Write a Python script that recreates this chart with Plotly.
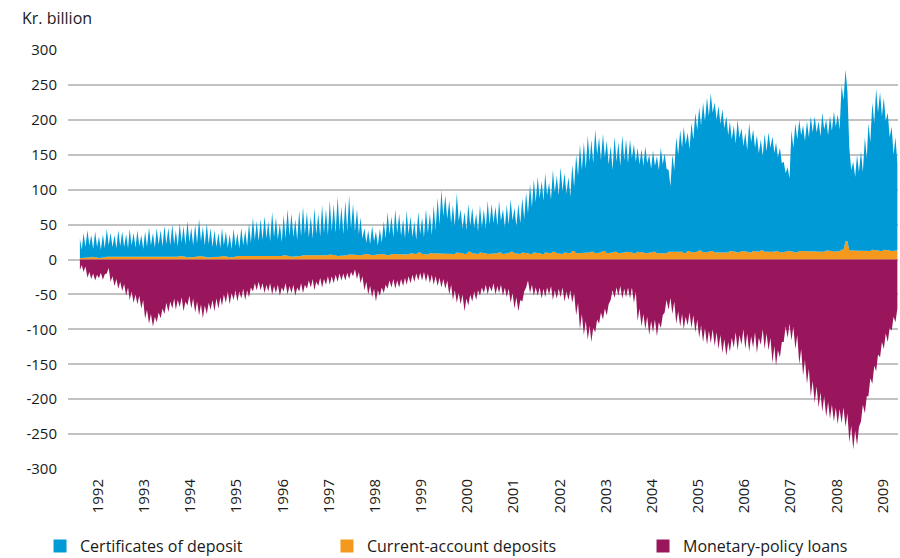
import numpy as np
import pandas as pd
import plotly.graph_objects as go

# ---------------- DATA (kr. billion), monthly Feb 1992 - Oct 2009 ----------------
# Top of the blue area (CD + current-account), spike level and body level per month
cd_top_peak = [
    30, 38, 42, 35, 40, 33, 36, 44, 38, 35, 42,                      # 1992 (Feb-Dec)
    40, 36, 44, 38, 42, 35, 40, 46, 38, 45, 42, 48,                  # 1993
    45, 50, 42, 52, 48, 55, 46, 50, 58, 47, 52, 45,                  # 1994
    42, 38, 45, 40, 36, 44, 38, 46, 42, 52, 60, 55,                  # 1995
    58, 62, 55, 68, 60, 52, 64, 72, 66, 58, 70, 76,                  # 1996
    68, 62, 74, 66, 78, 72, 85, 80, 90, 76, 84, 92,                  # 1997
    80, 72, 60, 45, 42, 48, 40, 44, 55, 68, 62, 72,                  # 1998
    65, 58, 70, 62, 55, 68, 60, 72, 66, 78, 88, 100,                 # 1999
    92, 85, 78, 95, 72, 68, 80, 74, 66, 78, 72, 84,                  # 2000
    80, 76, 84, 72, 78, 86, 74, 80, 88, 96, 108, 115,                # 2001
    118, 112, 124, 110, 128, 120, 132, 124, 118, 136, 150, 165,      # 2002
    168, 178, 172, 186, 175, 180, 170, 162, 176, 168, 178, 172,      # 2003
    172, 165, 160, 158, 162, 150, 156, 148, 160, 152, 128, 150,      # 2004
    175, 185, 190, 182, 196, 210, 218, 225, 232, 238, 225, 220,      # 2005
    215, 205, 198, 192, 200, 188, 182, 195, 186, 178, 172, 180,      # 2006
    182, 176, 168, 160, 140, 132, 185, 195, 200, 192, 198, 205,      # 2007
    205, 198, 210, 200, 206, 212, 208, 250, 272, 160, 140, 150,      # 2008
    155, 175, 195, 225, 245, 240, 232, 210, 190, 175,                # 2009 (Jan-Oct)
]
cd_top_base = [
    14, 18, 20, 15, 18, 14, 16, 20, 18, 16, 19,
    18, 16, 20, 17, 19, 15, 18, 20, 17, 21, 19, 22,
    20, 22, 19, 24, 21, 25, 20, 23, 26, 20, 22, 18,
    18, 16, 20, 17, 15, 19, 16, 20, 19, 24, 28, 26,
    28, 30, 26, 32, 29, 25, 30, 34, 32, 28, 33, 36,
    32, 30, 36, 33, 38, 35, 40, 38, 42, 36, 40, 44,
    40, 36, 30, 24, 22, 26, 20, 24, 30, 36, 32, 38,
    34, 30, 36, 32, 28, 36, 32, 38, 35, 42, 50, 62,
    58, 52, 48, 55, 44, 42, 48, 45, 40, 46, 44, 50,
    52, 48, 55, 46, 50, 56, 48, 52, 58, 66, 75, 82,
    88, 84, 92, 86, 96, 92, 98, 94, 90, 104, 120, 128,
    130, 140, 138, 150, 142, 146, 136, 128, 140, 134, 142, 138,
    145, 140, 136, 134, 138, 130, 134, 128, 136, 130, 105, 128,
    150, 160, 165, 158, 172, 185, 192, 198, 205, 210, 200, 194,
    188, 178, 172, 166, 174, 162, 156, 168, 160, 152, 148, 155,
    160, 152, 146, 138, 124, 116, 160, 172, 178, 170, 175, 182,
    182, 176, 186, 178, 184, 190, 186, 228, 240, 128, 118, 125,
    125, 145, 168, 195, 210, 205, 198, 175, 150, 138,
]
current_account = [
    2, 3, 3, 4, 3, 2, 3, 4, 3, 3, 4,
    3, 4, 3, 3, 4, 3, 4, 3, 3, 4, 3, 4,
    4, 3, 4, 5, 4, 3, 4, 4, 5, 4, 3, 4,
    4, 4, 5, 4, 3, 4, 5, 4, 4, 5, 4, 4,
    4, 5, 4, 5, 4, 5, 6, 5, 4, 5, 5, 6,
    5, 6, 5, 6, 5, 6, 7, 6, 5, 6, 6, 7,
    6, 7, 6, 8, 7, 6, 7, 8, 7, 6, 8, 7,
    7, 8, 7, 9, 8, 10, 8, 7, 9, 8, 9, 8,
    8, 9, 8, 10, 9, 8, 11, 9, 8, 10, 9, 8,
    8, 9, 10, 8, 9, 11, 9, 8, 10, 9, 8, 10,
    9, 8, 10, 9, 11, 9, 8, 10, 9, 12, 9, 10,
    9, 10, 11, 9, 10, 12, 9, 10, 11, 9, 10, 11,
    10, 9, 11, 10, 9, 10, 11, 9, 10, 9, 11, 10,
    10, 11, 9, 12, 10, 11, 13, 10, 11, 12, 10, 11,
    11, 10, 12, 11, 10, 12, 11, 10, 12, 11, 13, 11,
    10, 11, 12, 10, 11, 12, 11, 10, 12, 11, 12, 11,
    11, 12, 11, 13, 12, 11, 12, 14, 26, 13, 12, 13,
    12, 13, 12, 14, 13, 12, 14, 13, 12, 13,
]
loans_deep = [
    -15, -18, -26, -28, -30, -27, -29, -20, -32, -38, -42,
    -45, -52, -58, -62, -64, -70, -85, -92, -96, -90, -84, -78,
    -75, -70, -72, -68, -74, -66, -70, -76, -80, -84, -78, -72,
    -74, -70, -66, -62, -64, -58, -60, -56, -58, -54, -46, -44,
    -44, -48, -46, -50, -48, -52, -46, -50, -48, -52, -46, -48,
    -42, -40, -44, -38, -40, -36, -36, -34, -32, -30, -30, -28,
    -24, -28, -34, -44, -50, -54, -60, -52, -48, -42, -40, -42,
    -40, -38, -36, -34, -32, -30, -30, -32, -34, -36, -38, -40,
    -42, -50, -58, -62, -64, -74, -66, -60, -58, -52, -48, -50,
    -46, -50, -48, -52, -54, -62, -70, -74, -60, -40, -48, -52,
    -52, -56, -54, -50, -58, -56, -54, -60, -58, -62, -80, -100,
    -108, -115, -118, -104, -92, -86, -80, -58, -55, -52, -56, -54,
    -56, -62, -88, -96, -100, -108, -104, -110, -98, -76, -72, -78,
    -92, -96, -100, -94, -98, -104, -112, -118, -122, -120, -124, -128,
    -134, -138, -132, -126, -130, -122, -128, -132, -126, -134, -122, -128,
    -130, -148, -152, -140, -118, -112, -116, -128, -150, -166, -178, -196,
    -205, -212, -218, -225, -228, -232, -236, -234, -240, -262, -272, -266,
    -232, -220, -196, -178, -160, -140, -128, -118, -102, -90,
]
loans_shallow = [
    -8, -10, -18, -20, -22, -19, -21, -12, -24, -28, -32,
    -35, -40, -46, -50, -52, -58, -72, -78, -82, -76, -70, -62,
    -60, -56, -58, -54, -60, -52, -56, -60, -64, -66, -62, -58,
    -56, -54, -50, -46, -48, -44, -46, -42, -44, -40, -34, -32,
    -34, -36, -34, -38, -36, -40, -34, -38, -36, -40, -34, -36,
    -30, -28, -32, -26, -28, -24, -24, -22, -20, -20, -19, -18,
    -14, -18, -24, -32, -38, -42, -44, -40, -36, -30, -28, -30,
    -28, -26, -24, -22, -20, -19, -18, -20, -22, -24, -26, -28,
    -30, -36, -44, -48, -50, -56, -50, -46, -44, -40, -36, -38,
    -34, -38, -36, -40, -42, -48, -54, -58, -46, -30, -36, -40,
    -40, -42, -40, -38, -44, -42, -40, -46, -44, -48, -62, -78,
    -88, -95, -98, -86, -76, -70, -64, -44, -40, -38, -42, -40,
    -40, -46, -70, -78, -82, -88, -86, -90, -80, -58, -55, -60,
    -74, -78, -82, -76, -80, -86, -94, -98, -102, -100, -104, -108,
    -114, -118, -112, -104, -108, -100, -106, -110, -104, -112, -100, -106,
    -112, -124, -130, -118, -96, -92, -96, -108, -128, -144, -156, -174,
    -182, -190, -196, -204, -208, -212, -214, -212, -220, -238, -245, -240,
    -208, -196, -170, -152, -136, -118, -106, -98, -82, -70,
]
years = list(range(1992, 2010))
year_labels = [str(y) for y in years]
y_ticks = [-300, -250, -200, -150, -100, -50, 0, 50, 100, 150, 200, 250, 300]
y_tick_labels = [str(v) for v in y_ticks]

# ---------------- BUILD ----------------
months = pd.date_range("1992-02-01", "2009-10-01", freq="MS")
n = len(months)
x = np.empty(2 * n, dtype="datetime64[ns]")
x[0::2] = (months + pd.Timedelta(days=7)).values
x[1::2] = (months + pd.Timedelta(days=22)).values

top = np.empty(2 * n); top[0::2] = cd_top_peak; top[1::2] = cd_top_base
ca = np.repeat(np.array(current_account, dtype=float), 2)
cd = top - ca
loans = np.empty(2 * n); loans[0::2] = loans_deep; loans[1::2] = loans_shallow

BLUE = "#009bd6"
ORANGE = "#f4991e"
MAGENTA = "#99165c"
FONT = "Open Sans"

fig = go.Figure()
fig.add_trace(go.Scatter(x=x, y=ca, stackgroup="pos", mode="lines", line=dict(width=0, color=ORANGE),
                         fillcolor=ORANGE, name="Current-account deposits", showlegend=False))
fig.add_trace(go.Scatter(x=x, y=cd, stackgroup="pos", mode="lines", line=dict(width=0, color=BLUE),
                         fillcolor=BLUE, name="Certificates of deposit", showlegend=False))
fig.add_trace(go.Scatter(x=x, y=loans, fill="tozeroy", mode="lines", line=dict(width=0, color=MAGENTA),
                         fillcolor=MAGENTA, name="Monetary-policy loans", showlegend=False))

# legend entries (square markers), one legend each for exact placement
for name, col, lg in [("Certificates of deposit", BLUE, "legend"),
                      ("Current-account deposits", ORANGE, "legend2"),
                      ("Monetary-policy loans", MAGENTA, "legend3")]:
    fig.add_trace(go.Scatter(x=[None], y=[None], mode="markers", name=name,
                             marker=dict(symbol="square", size=13, color=col),
                             legend=lg, showlegend=True))

leg_common = dict(orientation="h", yanchor="middle", y=-0.184, xanchor="left",
                  font=dict(family=FONT, size=16, color="#1a1a1a"),
                  bgcolor="rgba(0,0,0,0)", borderwidth=0, itemwidth=30)

fig.update_layout(
    width=900, height=558,
    margin=dict(l=68, r=2, t=50, b=89, autoexpand=False),
    paper_bgcolor="white", plot_bgcolor="white",
    font=dict(family=FONT, size=15, color="#1a1a1a"),
    legend=dict(x=-0.0337, **leg_common),
    legend2=dict(x=0.312, **leg_common),
    legend3=dict(x=0.6928, **leg_common),
    xaxis=dict(type="date", range=["1991-11-06", "2009-10-28"],
               tickvals=[f"{y}-07-01" for y in years], ticktext=year_labels,
               tickangle=-90, showgrid=False, zeroline=False, showline=False, ticks="",
               tickfont=dict(family=FONT, size=15, color="#1a1a1a"),
               ticklabelstandoff=6, automargin=False),
    yaxis=dict(range=[-300, 300], tickvals=y_ticks, ticktext=y_tick_labels,
               showgrid=True, gridcolor="#c2c2c2", gridwidth=1.6,
               zeroline=True, zerolinecolor="#c2c2c2", zerolinewidth=1.6,
               showline=False, ticks="", ticklabelstandoff=10,
               tickfont=dict(family=FONT, size=15, color="#1a1a1a"), automargin=False),
    annotations=[dict(text="Kr. billion", xref="paper", yref="paper", x=-0.0578, y=1.0764,
                      xanchor="left", yanchor="middle", showarrow=False,
                      font=dict(family=FONT, size=16, color="#1a1a1a"))],
)

fig.write_html("out.html", config={"displayModeBar": False},
               post_script="document.body.style.margin='0px';")
